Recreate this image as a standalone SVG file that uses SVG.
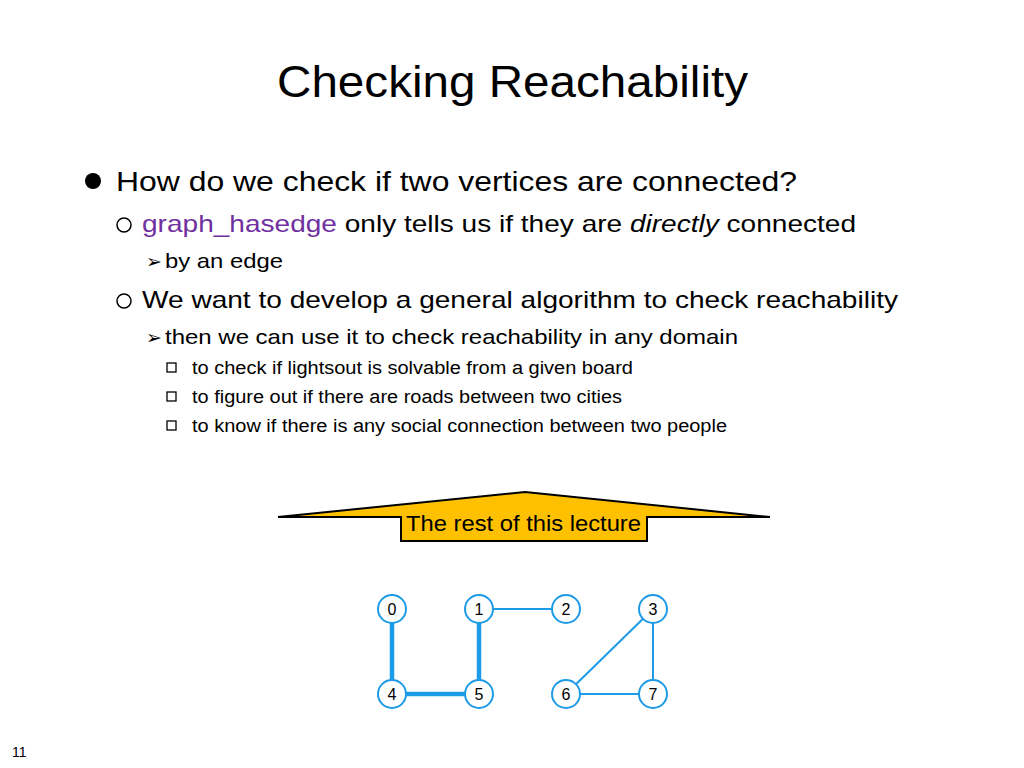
<svg xmlns="http://www.w3.org/2000/svg" width="1024" height="768" viewBox="0 0 1024 768">
<style>
text{font-family:"Liberation Sans",Arial,sans-serif;fill:#000}
.n circle{fill:#fff;stroke:#1E9BE6;stroke-width:2}
.n text{font-size:16px;text-anchor:middle}
.e{stroke:#1E9BE6;stroke-width:2;fill:none}
.eb{stroke:#1E9BE6;stroke-width:4.5;fill:none}
.cb{fill:none;stroke:#000;stroke-width:1.3}
.ob{fill:none;stroke:#000;stroke-width:1.5}
</style>
<rect width="1024" height="768" fill="#fff"/>
<text x="277" y="97" font-size="45" textLength="471" lengthAdjust="spacingAndGlyphs">Checking Reachability</text>
<circle cx="93" cy="181" r="8"/>
<text x="116" y="191" font-size="28" textLength="681" lengthAdjust="spacingAndGlyphs">How do we check if two vertices are connected?</text>
<circle class="ob" cx="124" cy="225" r="7"/>
<text x="142" y="232" font-size="24" textLength="714" lengthAdjust="spacingAndGlyphs"><tspan fill="#7030A0">graph_hasedge</tspan> only tells us if they are <tspan font-style="italic">directly</tspan> connected</text>
<text x="146" y="268" font-size="19">➢</text>
<text x="165" y="268" font-size="21" textLength="118" lengthAdjust="spacingAndGlyphs">by an edge</text>
<circle class="ob" cx="124" cy="301" r="7"/>
<text x="142" y="308" font-size="24" textLength="756" lengthAdjust="spacingAndGlyphs">We want to develop a general algorithm to check reachability</text>
<text x="146" y="344" font-size="19">➢</text>
<text x="165" y="344" font-size="21" textLength="573" lengthAdjust="spacingAndGlyphs">then we can use it to check reachability in any domain</text>
<rect class="cb" x="167" y="363" width="9" height="9"/>
<rect class="cb" x="167" y="392" width="9" height="9"/>
<rect class="cb" x="167" y="421" width="9" height="9"/>
<text x="192" y="374" font-size="18" textLength="441" lengthAdjust="spacingAndGlyphs">to check if lightsout is solvable from a given board</text>
<text x="192" y="403" font-size="18" textLength="430" lengthAdjust="spacingAndGlyphs">to figure out if there are roads between two cities</text>
<text x="192" y="432" font-size="18" textLength="535" lengthAdjust="spacingAndGlyphs">to know if there is any social connection between two people</text>
<polygon points="278,517 525,492 770,517 647,517 647,541 401,541 401,517" fill="#FFC000" stroke="#000" stroke-width="2"/>
<text x="406" y="531" font-size="22" textLength="235" lengthAdjust="spacingAndGlyphs">The rest of this lecture</text>
<g id="edges">
<line class="eb" x1="392" y1="609" x2="392" y2="694"/>
<line class="eb" x1="392" y1="694" x2="479" y2="694"/>
<line class="eb" x1="479" y1="609" x2="479" y2="694"/>
<line class="e" x1="479" y1="609" x2="566" y2="609"/>
<line class="e" x1="653" y1="609" x2="566" y2="694"/>
<line class="e" x1="653" y1="609" x2="653" y2="694"/>
<line class="e" x1="566" y1="694" x2="653" y2="694"/>
</g>
<g id="n0" class="n"><circle cx="392" cy="609" r="14"/><text x="392" y="615">0</text></g>
<g id="n1" class="n"><circle cx="479" cy="609" r="14"/><text x="479" y="615">1</text></g>
<g id="n2" class="n"><circle cx="566" cy="609" r="14"/><text x="566" y="615">2</text></g>
<g id="n3" class="n"><circle cx="653" cy="609" r="14"/><text x="653" y="615">3</text></g>
<g id="n4" class="n"><circle cx="392" cy="694" r="14"/><text x="392" y="700">4</text></g>
<g id="n5" class="n"><circle cx="479" cy="694" r="14"/><text x="479" y="700">5</text></g>
<g id="n6" class="n"><circle cx="566" cy="694" r="14"/><text x="566" y="700">6</text></g>
<g id="n7" class="n"><circle cx="653" cy="694" r="14"/><text x="653" y="700">7</text></g>
<text x="12" y="757" font-size="14">11</text>
</svg>
